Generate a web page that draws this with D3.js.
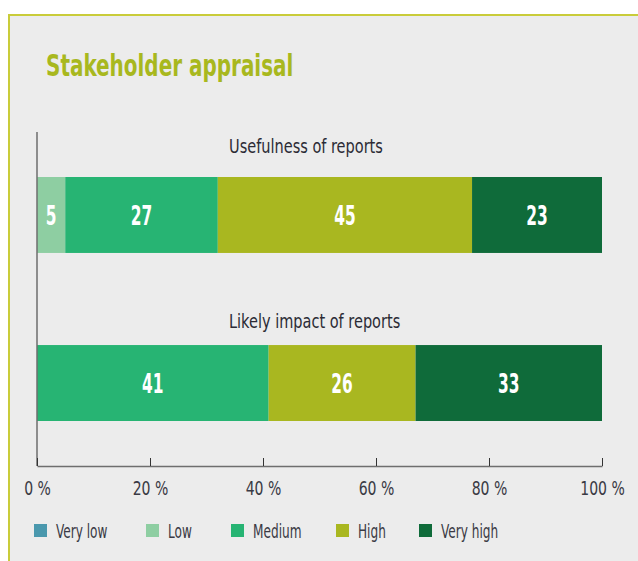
<!DOCTYPE html>
<html>
<head>
<meta charset="utf-8">
<script src="https://cdn.jsdelivr.net/npm/d3@7"></script>
<style>
  html, body { margin: 0; padding: 0; background: #fff; }
  svg { display: block; font-family: "DejaVu Sans Condensed", "DejaVu Sans", sans-serif; }
</style>
</head>
<body>
<div id="chart"></div>
<script>
// --- data ---
const categories = ["Usefulness of reports", "Likely impact of reports"];
const levels = ["Very low", "Low", "Medium", "High", "Very high"];
const veryLow = [0, 0];
const low = [5, 0];
const medium = [27, 41];
const high = [45, 26];
const veryHigh = [23, 33];
const ticks = [0, 20, 40, 60, 80, 100];

const colors = ["#4a98ad", "#8ecea2", "#27b473", "#a9b720", "#0f6b3a"];

const width = 638, height = 561;
const svg = d3.select("#chart").append("svg")
  .attr("width", width).attr("height", height);

// no condensed font installed, so squeeze text horizontally
const squeeze = (x, y, sx) => `translate(${x},${y}) scale(${sx},1)`;

// panel
svg.append("rect").attr("x", 8).attr("y", 14).attr("width", width - 8).attr("height", height - 14)
  .attr("fill", "#ececec");
svg.append("path").attr("d", `M9,${height} V15 H${width}`)
  .attr("fill", "none").attr("stroke", "#c9cc3a").attr("stroke-width", 2);

svg.append("text").attr("transform", squeeze(46, 76, 0.74))
  .attr("fill", "#a8b81e").attr("font-size", 30).attr("font-weight", "bold")
  .text("Stakeholder appraisal");

// scales
const x = d3.scaleLinear().domain([0, 100]).range([37, 602]);
const y = d3.scaleBand().domain(categories).range([177, 421]).paddingInner(0.548);

// stacked rows
const rows = categories.map((c, i) => {
  const r = { cat: c };
  levels.forEach((l, j) => r[l] = [veryLow, low, medium, high, veryHigh][j][i]);
  return r;
});
const series = d3.stack().keys(levels)(rows);

const g = svg.append("g");
series.forEach((s, j) => {
  const segs = s.filter(d => d[1] > d[0]);
  g.selectAll(null).data(segs).enter().append("rect")
    .attr("x", d => x(d[0]))
    .attr("y", d => y(d.data.cat))
    .attr("width", d => x(d[1]) - x(d[0]))
    .attr("height", y.bandwidth())
    .attr("fill", colors[j]);
  g.selectAll(null).data(segs).enter().append("text")
    .attr("transform", d => squeeze((x(d[0]) + x(d[1])) / 2, y(d.data.cat) + y.bandwidth() / 2 + 10, 0.66))
    .attr("text-anchor", "middle")
    .attr("fill", "#fff").attr("font-size", 26).attr("font-weight", "bold")
    .text(d => d[1] - d[0]);
});

// category labels above the bars
const labelGap = [24, 17];
svg.selectAll(null).data(categories).enter().append("text")
  .attr("transform", (d, i) => squeeze(229, y(d) - labelGap[i], 0.85))
  .attr("fill", "#2b2b35").attr("font-size", 19)
  .text(d => d);

// axes
svg.append("line").attr("x1", 37).attr("x2", 37).attr("y1", 132).attr("y2", 466)
  .attr("stroke", "#6e6e6e").attr("stroke-width", 1.5);
const xAxis = svg.append("g").attr("transform", "translate(0,466)")
  .call(d3.axisBottom(x).tickValues(ticks).tickSizeInner(-8).tickSizeOuter(0).tickPadding(15)
    .tickFormat(d => d + " %"));
xAxis.select(".domain").attr("stroke", "#6e6e6e").attr("stroke-width", 1.5);
xAxis.selectAll(".tick line").attr("stroke", "#333");
xAxis.selectAll(".tick text")
  .attr("font-family", "DejaVu Sans Condensed, DejaVu Sans, sans-serif")
  .attr("font-size", 20).attr("fill", "#3a3a44")
  .attr("transform", "scale(0.78,1)");

// legend
const legendX = [34, 146, 231, 336, 419];
const legend = svg.selectAll(".leg").data(levels).enter().append("g")
  .attr("class", "leg")
  .attr("transform", (d, i) => `translate(${legendX[i]},524)`);
legend.append("rect").attr("width", 13).attr("height", 13).attr("fill", (d, i) => colors[i]);
legend.append("text").attr("transform", squeeze(22, 14, 0.71))
  .attr("font-size", 19).attr("fill", "#3a3a44")
  .text(d => d);
</script>
</body>
</html>
